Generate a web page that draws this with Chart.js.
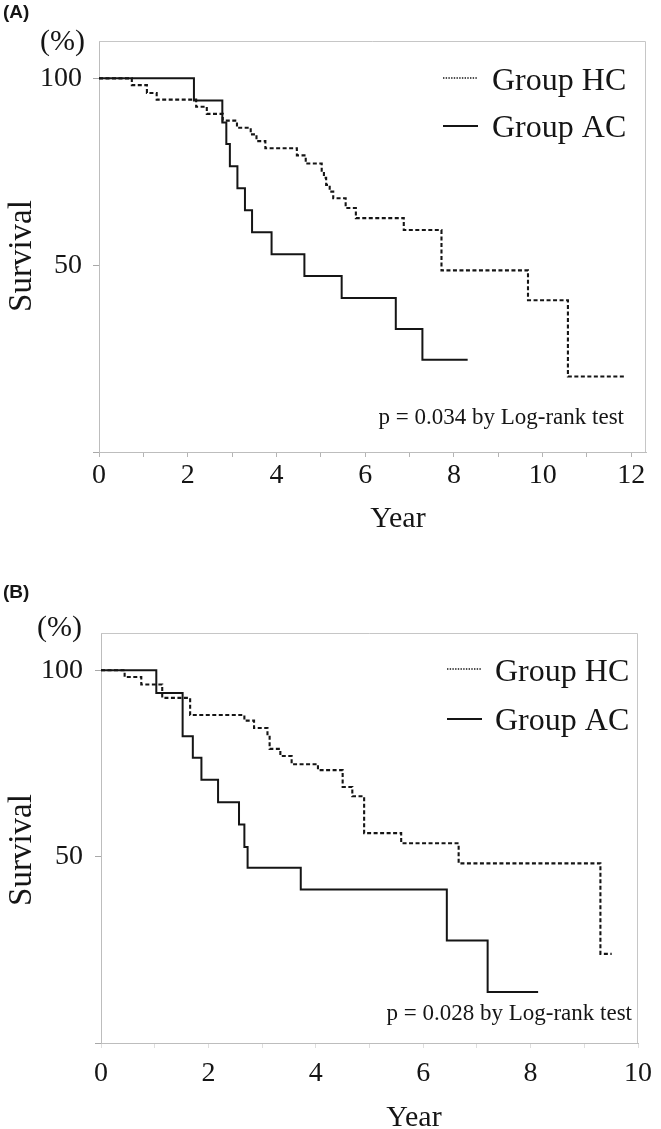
<!DOCTYPE html>
<html>
<head>
<meta charset="utf-8">
<script src="https://cdn.jsdelivr.net/npm/chart.js@4.4.1/dist/chart.umd.min.js"></script>
<style>
  body { margin: 0; background: #fff; }
  .panel { position: relative; width: 661px; }
  #wrapA { height: 570px; }
  #wrapB { height: 559px; }
</style>
</head>
<body>
<div class="panel" id="wrapA"><canvas id="chartA"></canvas></div>
<div class="panel" id="wrapB"><canvas id="chartB"></canvas></div>
<script>
// Panel A - years at each step and survival (%) after the step
const hcYearsA = [0, 0.74, 1.08, 1.30, 2.19, 2.43, 2.79, 3.11, 3.42, 3.55, 3.75, 4.46, 4.66, 5.02, 5.07, 5.12, 5.20, 5.28, 5.56, 5.79, 6.87, 7.72, 9.67, 10.57, 11.88];
const hcSurvA  = [100, 98.2, 96.1, 94.3, 92.4, 90.5, 88.7, 86.8, 85.0, 83.2, 81.3, 79.4, 77.2, 75.3, 73.4, 71.5, 69.7, 67.9, 65.3, 62.6, 59.4, 48.6, 40.6, 20.2, 20.2];
const acYearsA = [0, 2.14, 2.78, 2.87, 2.95, 3.12, 3.29, 3.45, 3.89, 4.63, 5.47, 6.69, 7.29, 8.31];
const acSurvA  = [100, 94.1, 88.2, 82.4, 76.5, 70.6, 64.7, 58.8, 52.9, 47.1, 41.2, 32.9, 24.7, 24.7];

// Panel B
const hcYearsB = [0, 0.44, 0.75, 1.14, 1.66, 2.67, 2.85, 3.10, 3.14, 3.34, 3.55, 4.04, 4.50, 4.68, 4.90, 5.59, 6.66, 9.30, 9.51];
const hcSurvB  = [100, 98.2, 96.2, 92.6, 88.0, 86.5, 84.5, 82.5, 78.9, 77.0, 74.8, 73.2, 68.7, 66.2, 56.3, 53.6, 48.2, 23.9, 23.9];
const acYearsB = [0, 1.03, 1.52, 1.71, 1.87, 2.18, 2.57, 2.67, 2.73, 3.72, 6.44, 7.20, 8.14];
const acSurvB  = [100, 93.9, 82.3, 76.5, 70.6, 64.6, 58.6, 52.6, 47.0, 41.2, 27.5, 13.7, 13.7];

// Axis ticks
const xTicksA = [0, 1, 2, 3, 4, 5, 6, 7, 8, 9, 10, 11, 12];
const xTicksB = [0, 1, 2, 3, 4, 5, 6, 7, 8, 9, 10];
const yTicks = [0, 50, 100];

const seriesNames = ['Group HC', 'Group AC'];
const pTextA = 'p = 0.034 by Log-rank test';
const pTextB = 'p = 0.028 by Log-rank test';

const SERIF = "'Liberation Serif', 'Times New Roman', serif";
const INK = '#151515';

function toPoints(xs, ys) {
  return xs.map((x, i) => ({ x: x, y: ys[i] }));
}

// Draws frame, labels, legend and p-value text
function decorPlugin(p) {
  return {
    id: 'decor',
    afterDraw(chart) {
      const ctx = chart.ctx;
      const a = chart.chartArea;
      ctx.save();

      // top and right edge of the plot box
      ctx.strokeStyle = '#c6c6c6';
      ctx.lineWidth = 1;
      ctx.beginPath();
      ctx.moveTo(a.left, a.top + 0.5);
      ctx.lineTo(a.right - 0.5, a.top + 0.5);
      ctx.lineTo(a.right - 0.5, a.bottom);
      ctx.stroke();

      ctx.fillStyle = INK;
      ctx.textBaseline = 'alphabetic';

      // panel tag
      ctx.font = "bold 19px 'Liberation Sans', Arial, sans-serif";
      ctx.textAlign = 'left';
      ctx.fillText(p.tag, 3, p.tagY);

      // (%)
      ctx.font = '30px ' + SERIF;
      ctx.textAlign = 'right';
      ctx.fillText('(%)', p.pctX, p.pctY);

      // y title
      ctx.save();
      ctx.translate(p.survX, p.survY);
      ctx.rotate(-Math.PI / 2);
      ctx.font = '33px ' + SERIF;
      ctx.textAlign = 'center';
      ctx.textBaseline = 'middle';
      ctx.fillText('Survival', 0, 0);
      ctx.restore();

      // x title
      ctx.font = '30px ' + SERIF;
      ctx.textAlign = 'center';
      ctx.fillText('Year', p.yearX, p.yearY);

      // p-value
      ctx.font = '23px ' + SERIF;
      ctx.textAlign = 'right';
      ctx.fillText(p.pText, p.pX, p.pY);

      // legend
      ctx.strokeStyle = INK;
      ctx.lineWidth = 1.4;
      ctx.setLineDash([1.4, 1.3]);
      ctx.beginPath();
      ctx.moveTo(p.legX, p.legY1);
      ctx.lineTo(p.legX + 35, p.legY1);
      ctx.stroke();
      ctx.setLineDash([]);
      ctx.lineWidth = 2;
      ctx.beginPath();
      ctx.moveTo(p.legX, p.legY2);
      ctx.lineTo(p.legX + 35, p.legY2);
      ctx.stroke();

      ctx.font = '32px ' + SERIF;
      ctx.textAlign = 'left';
      ctx.fillText(seriesNames[0], p.legTextX, p.legY1 + 12);
      ctx.fillText(seriesNames[1], p.legTextX, p.legY2 + 11);

      ctx.restore();
    }
  };
}

function renderSurvivalChart(canvasId, p) {
  const ctx = document.getElementById(canvasId).getContext('2d');
  new Chart(ctx, {
    type: 'line',
    data: {
      datasets: [
        {
          label: seriesNames[0],
          data: toPoints(p.hcYears, p.hcSurv),
          stepped: true,
          borderColor: INK,
          borderWidth: 2.1,
          borderDash: [4, 2.5],
          pointRadius: 0,
          fill: false
        },
        {
          label: seriesNames[1],
          data: toPoints(p.acYears, p.acSurv),
          stepped: true,
          borderColor: INK,
          borderWidth: 2,
          pointRadius: 0,
          fill: false
        }
      ]
    },
    options: {
      responsive: true,
      maintainAspectRatio: false,
      animation: false,
      layout: { padding: { top: p.top, right: p.right, left: 0, bottom: 0 } },
      plugins: {
        legend: { display: false },
        tooltip: { enabled: false },
        title: { display: false }
      },
      scales: {
        x: {
          type: 'linear',
          min: 0,
          max: p.xMax,
          afterBuildTicks: s => { s.ticks = p.xTicks.map(v => ({ value: v })); },
          afterFit: s => { s.height = p.xAxisH; },
          ticks: {
            autoSkip: false,
            maxRotation: 0,
            padding: p.xPad,
            color: INK,
            font: { family: SERIF, size: 28 },
            callback: v => (v % 2 === 0 ? String(v) : '')
          },
          grid: { drawOnChartArea: false, drawTicks: true, tickLength: 5, color: p.tickColor },
          border: { color: '#bdbdbd', width: 1 }
        },
        y: {
          min: 0,
          max: 110,
          afterBuildTicks: s => { s.ticks = yTicks.map(v => ({ value: v })); },
          afterFit: s => { s.width = p.yAxisW; },
          ticks: {
            padding: p.yPad,
            color: INK,
            font: { family: SERIF, size: 28 },
            callback: v => (v === 0 ? '' : String(v))
          },
          grid: { drawOnChartArea: false, drawTicks: true, tickLength: 6, color: '#a8a8a8' },
          border: { color: '#bdbdbd', width: 1 }
        }
      }
    },
    plugins: [decorPlugin(p)]
  });
}

renderSurvivalChart('chartA', {
  hcYears: hcYearsA, hcSurv: hcSurvA, acYears: acYearsA, acSurv: acSurvA,
  xTicks: xTicksA, xMax: 12.33, pText: pTextA, tag: '(A)',
  top: 41, right: 15, yAxisW: 99, xAxisH: 118, xPad: 2, yPad: 11, tickColor: '#b4b4b4',
  tagY: 18, pctX: 85, pctY: 50, survX: 22, survY: 256, yearX: 398, yearY: 527,
  pX: 624, pY: 424, legX: 443, legY1: 78, legY2: 126, legTextX: 492
});

renderSurvivalChart('chartB', {
  hcYears: hcYearsB, hcSurv: hcSurvB, acYears: acYearsB, acSurv: acSurvB,
  xTicks: xTicksB, xMax: 10, pText: pTextB, tag: '(B)',
  top: 63, right: 14, yAxisW: 101, xAxisH: 86, xPad: 9, yPad: 12, tickColor: '#dedede',
  tagY: 28, pctX: 82, pctY: 66, survX: 22, survY: 280, yearX: 414, yearY: 556,
  pX: 632, pY: 450, legX: 447, legY1: 99, legY2: 149, legTextX: 495
});
</script>
</body>
</html>
